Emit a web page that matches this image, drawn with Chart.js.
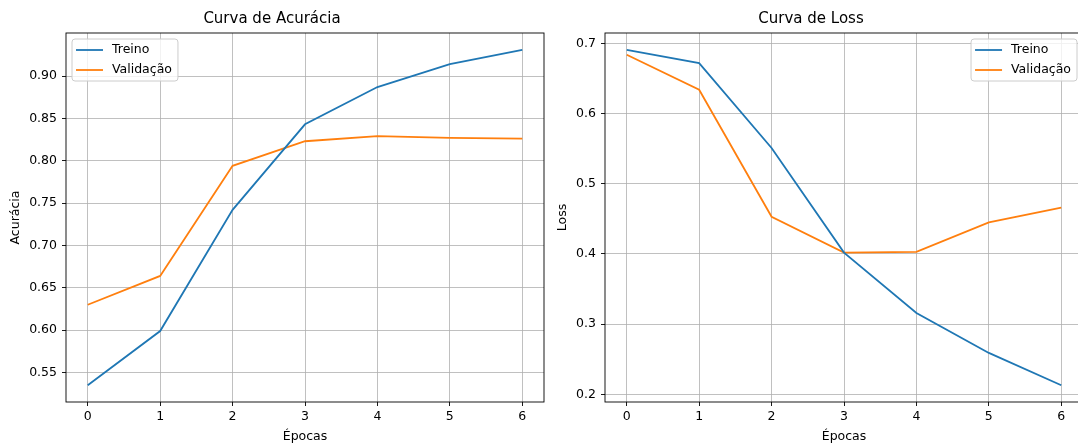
<!DOCTYPE html>
<html>
<head>
<meta charset="utf-8">
<script src="https://cdn.jsdelivr.net/npm/chart.js@4/dist/chart.umd.min.js"></script>
<style>
  html, body { margin: 0; padding: 0; background: #fff; overflow: hidden; width: 1078px; height: 444px; }
  canvas { position: absolute; top: 0; }
  #acc { left: 0; }
  #loss { left: 539px; }
</style>
</head>
<body>
<canvas id="acc" width="550" height="444"></canvas>
<canvas id="loss" width="550" height="444"></canvas>
<script>
// Dados
const epocas = [0, 1, 2, 3, 4, 5, 6];
const accTreino = [0.535, 0.599, 0.742, 0.843, 0.887, 0.914, 0.931];
const accValidacao = [0.630, 0.664, 0.794, 0.823, 0.829, 0.827, 0.826];
const lossTreino = [0.691, 0.672, 0.551, 0.402, 0.316, 0.259, 0.213];
const lossValidacao = [0.684, 0.634, 0.453, 0.402, 0.403, 0.445, 0.466];
const accTicks = [0.55, 0.60, 0.65, 0.70, 0.75, 0.80, 0.85, 0.90];
const lossTicks = [0.2, 0.3, 0.4, 0.5, 0.6, 0.7];

const AZUL = "#1f77b4";
const LARANJA = "#ff7f0e";
const FONTE = "'DejaVu Sans', sans-serif";
const TAM_TICK = 12.5;
const TAM_ROTULO = 12.5;

// limites estilo matplotlib (margem de 5%)
function limites(a, b) {
  const all = a.concat(b);
  const lo = Math.min(...all), hi = Math.max(...all);
  const m = (hi - lo) * 0.05;
  return { min: lo - m, max: hi + m };
}

// moldura + legenda dentro da área
const molduraPlugin = {
  id: "moldura",
  afterDraw(chart, args, opts) {
    const { ctx, chartArea: a } = chart;
    ctx.save();
    // legenda
    ctx.font = TAM_TICK + "px " + FONTE;
    const labels = chart.data.datasets.map((d) => d.label);
    const tw = Math.max(...labels.map((l) => ctx.measureText(l).width));
    const w = 40 + tw + 6, h = 42;
    const x = opts.lado === "right" ? a.right - 6 - w : a.left + 6;
    const y = a.top + 6;
    ctx.beginPath();
    ctx.roundRect(x, y, w, h, 3);
    ctx.fillStyle = "rgba(255,255,255,0.8)";
    ctx.fill();
    ctx.strokeStyle = "#cccccc";
    ctx.lineWidth = 1;
    ctx.stroke();
    chart.data.datasets.forEach((d, i) => {
      const ly = y + 11 + i * 20;
      ctx.beginPath();
      ctx.moveTo(x + 4, ly);
      ctx.lineTo(x + 31, ly);
      ctx.strokeStyle = d.borderColor;
      ctx.lineWidth = 1.8;
      ctx.stroke();
      ctx.fillStyle = "#000";
      ctx.textBaseline = "middle";
      ctx.fillText(d.label, x + 40, ly);
    });
    // moldura
    ctx.strokeStyle = "#000";
    ctx.lineWidth = 0.9;
    ctx.strokeRect(a.left, a.top, a.right - a.left, a.bottom - a.top);
    ctx.restore();
  },
};

function criarGrafico(id, titulo, rotuloY, treino, validacao, yTicks, casas, lado, tituloPadY) {
  const lim = limites(treino, validacao);
  return new Chart(document.getElementById(id), {
    type: "line",
    data: {
      labels: epocas,
      datasets: [
        { label: "Treino", data: epocas.map((e, i) => ({ x: e, y: treino[i] })), borderColor: AZUL, borderWidth: 1.8, pointRadius: 0, tension: 0 },
        { label: "Validação", data: epocas.map((e, i) => ({ x: e, y: validacao[i] })), borderColor: LARANJA, borderWidth: 1.8, pointRadius: 0, tension: 0 },
      ],
    },
    options: {
      responsive: false,
      animation: false,
      layout: { padding: { left: 0, right: 6, top: 0, bottom: 0 } },
      plugins: {
        legend: { display: false },
        tooltip: { enabled: false },
        title: {
          display: true,
          text: titulo,
          color: "#000",
          font: { family: FONTE, size: 15, weight: "normal", lineHeight: 1.2 },
          padding: { top: 10, bottom: 5 },
        },
        moldura: { lado: lado },
      },
      scales: {
        x: {
          type: "linear",
          min: -0.3,
          max: 6.3,
          afterBuildTicks: (s) => { s.ticks = epocas.map((v) => ({ value: v })); },
          afterFit: (s) => { s.height = 42; },
          border: { display: false },
          grid: { color: "#b0b0b0", lineWidth: 0.8, drawTicks: true, tickLength: 4, tickColor: "#000", tickWidth: 0.9 },
          ticks: { color: "#000", font: { family: FONTE, size: TAM_TICK }, padding: 3, maxRotation: 0, callback: (v) => String(v) },
          title: { display: true, text: "Épocas", color: "#000", font: { family: FONTE, size: TAM_ROTULO }, padding: { top: 0, bottom: 0 } },
        },
        y: {
          min: lim.min,
          max: lim.max,
          afterBuildTicks: (s) => { s.ticks = yTicks.map((v) => ({ value: v })); },
          afterFit: (s) => { s.width = 66; },
          border: { display: false },
          grid: { color: "#b0b0b0", lineWidth: 0.8, drawTicks: true, tickLength: 4, tickColor: "#000", tickWidth: 0.9 },
          ticks: { color: "#000", font: { family: FONTE, size: TAM_TICK }, padding: 5, callback: (v) => Number(v).toFixed(casas) },
          title: { display: true, text: rotuloY, color: "#000", font: { family: FONTE, size: TAM_ROTULO }, padding: { top: tituloPadY, bottom: 0 } },
        },
      },
    },
    plugins: [molduraPlugin],
  });
}

criarGrafico("acc", "Curva de Acurácia", "Acurácia", accTreino, accValidacao, accTicks, 2, "left", 8);
criarGrafico("loss", "Curva de Loss", "Loss", lossTreino, lossValidacao, lossTicks, 1, "right", 16);
</script>
</body>
</html>
